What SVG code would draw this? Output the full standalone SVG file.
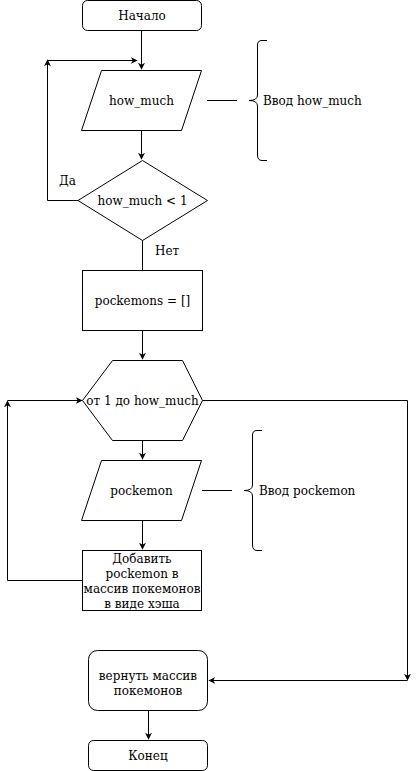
<svg xmlns="http://www.w3.org/2000/svg" width="416" height="771" viewBox="0 0 416 771">
<defs>
<marker id="arr" viewBox="0 0 10 10" refX="9" refY="5" markerWidth="7" markerHeight="7" orient="auto" markerUnits="userSpaceOnUse">
<path d="M0,0 L10,5 L0,10 L3,5 z" fill="#000"/>
</marker>
</defs>
<style>
.s{fill:#fff;stroke:#000;stroke-width:1}
.c{fill:none;stroke:#000;stroke-width:1}
text{font-family:"DejaVu Serif","Liberation Serif",serif;font-size:12px;fill:#000}
.m{text-anchor:middle;dominant-baseline:central}
.l{dominant-baseline:central}
</style>
<rect width="416" height="771" fill="#fff"/>
<g id="connectors">
<path class="c" d="M141.5,30.5 V69" marker-end="url(#arr)"/>
<path class="c" d="M78,200.5 H47.5 V60" marker-end="url(#arr)"/>
<path class="c" d="M47.5,60.5 H137" marker-end="url(#arr)"/>
<path class="c" d="M141.5,130 V159" marker-end="url(#arr)"/>
<path class="c" d="M142.5,240 V270"/>
<path class="c" d="M142.5,330 V359" marker-end="url(#arr)"/>
<path class="c" d="M142.5,440 V459" marker-end="url(#arr)"/>
<path class="c" d="M142.5,520 V549" marker-end="url(#arr)"/>
<path class="c" d="M82,580.5 H7.5 V401" marker-end="url(#arr)"/>
<path class="c" d="M7.5,400.5 H82" marker-end="url(#arr)"/>
<path class="c" d="M202,400.5 H407.5 V680" marker-end="url(#arr)"/>
<path class="c" d="M407.5,680.5 H209" marker-end="url(#arr)"/>
<path class="c" d="M148.5,710 V739" marker-end="url(#arr)"/>
<path class="c" d="M207,100.5 H237"/>
<path class="c" d="M202,490.5 H232"/>
</g>
<g id="start">
<rect class="s" x="82.5" y="0.5" width="119" height="30" rx="5"/>
<text class="m" x="142" y="15.5">Начало</text>
</g>
<g id="input-how-much">
<path class="s" d="M101.5,70.5 H201.5 L181.5,130.5 H81.5 Z"/>
<text class="m" x="141.5" y="100.5">how_much</text>
</g>
<g id="note-how-much">
<path class="c" d="M267,40.5 H262 Q257.5,40.5 257.5,45 V95 Q257.5,100.5 249,100.5 Q257.5,100.5 257.5,106 V155 Q257.5,160.5 262,160.5 H267"/>
<text class="l" x="263" y="100.5">Ввод how_much</text>
</g>
<g id="decision">
<path class="s" d="M142.5,160.5 L207.5,200.5 L142.5,240.5 L78,200.5 Z"/>
<text class="m" x="142.5" y="200.5">how_much &lt; 1</text>
<text class="l" x="59" y="180.5">Да</text>
<text class="l" x="155" y="250.5">Нет</text>
</g>
<g id="init">
<rect class="s" x="82.5" y="270.5" width="120" height="60"/>
<text class="m" x="142.5" y="300.5">pockemons = []</text>
</g>
<g id="loop">
<path class="s" d="M112.5,360.5 H182.5 L202.5,400.5 L182.5,440.5 H112.5 L82.5,400.5 Z"/>
<text class="m" x="142.5" y="400.5">от 1 до how_much</text>
</g>
<g id="input-pockemon">
<path class="s" d="M101.5,460.5 H201.5 L181.5,520.5 H81.5 Z"/>
<text class="m" x="141.5" y="490.5">pockemon</text>
</g>
<g id="note-pockemon">
<path class="c" d="M262,430.5 H257 Q252.5,430.5 252.5,435 V485 Q252.5,490.5 244,490.5 Q252.5,490.5 252.5,496 V545 Q252.5,550.5 257,550.5 H262"/>
<text class="l" x="259" y="490.5">Ввод pockemon</text>
</g>
<g id="add">
<rect class="s" x="82.5" y="550.5" width="119" height="60"/>
<text class="m" x="142" y="558.5">Добавить</text>
<text class="m" x="142" y="573.5">pockemon в</text>
<text class="m" x="142" y="588.5">массив покемонов</text>
<text class="m" x="142" y="603.5">в виде хэша</text>
</g>
<g id="return">
<rect class="s" x="88.5" y="650.5" width="119" height="60" rx="9"/>
<text class="m" x="148" y="675.5">вернуть массив</text>
<text class="m" x="148" y="690.5">покемонов</text>
</g>
<g id="end">
<rect class="s" x="88.5" y="740.5" width="119" height="30" rx="5"/>
<text class="m" x="148" y="755.5">Конец</text>
</g>
</svg>
